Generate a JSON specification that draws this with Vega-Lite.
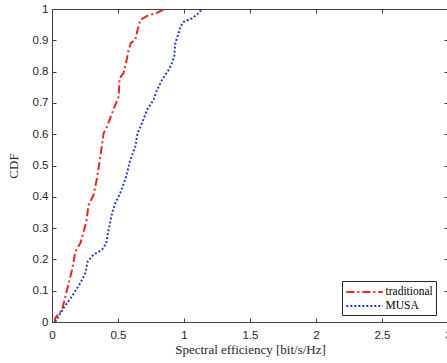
{
  "$schema": "https://vega.github.io/schema/vega-lite/v6.json",
  "width": 396,
  "height": 313,
  "autosize": {"type": "none"},
  "padding": {"left": 52, "top": 9, "right": 0, "bottom": 41},
  "background": "white",
  "config": {
    "view": {"stroke": "#404040", "strokeWidth": 1},
    "axis": {"grid": false, "domainColor": "#404040", "tickColor": "#404040", "labelColor": "#262626", "titleColor": "#262626", "labelFont": "Liberation Sans", "labelFontSize": 11.5, "titleFont": "Liberation Serif", "titleFontSize": 13, "titleFontWeight": "normal", "tickSize": -4}
  },
  "data": {
    "values": [
      {"s": "traditional", "i": 0, "x": 0.02, "y": 0},
      {"s": "traditional", "i": 1, "x": 0.025, "y": 0.013},
      {"s": "traditional", "i": 2, "x": 0.076, "y": 0.039},
      {"s": "traditional", "i": 3, "x": 0.114, "y": 0.103},
      {"s": "traditional", "i": 4, "x": 0.152, "y": 0.167},
      {"s": "traditional", "i": 5, "x": 0.177, "y": 0.225},
      {"s": "traditional", "i": 6, "x": 0.216, "y": 0.253},
      {"s": "traditional", "i": 7, "x": 0.26, "y": 0.32},
      {"s": "traditional", "i": 8, "x": 0.277, "y": 0.374},
      {"s": "traditional", "i": 9, "x": 0.315, "y": 0.406},
      {"s": "traditional", "i": 10, "x": 0.341, "y": 0.46},
      {"s": "traditional", "i": 11, "x": 0.366, "y": 0.528},
      {"s": "traditional", "i": 12, "x": 0.391, "y": 0.603},
      {"s": "traditional", "i": 13, "x": 0.417, "y": 0.624},
      {"s": "traditional", "i": 14, "x": 0.455, "y": 0.667},
      {"s": "traditional", "i": 15, "x": 0.48, "y": 0.694},
      {"s": "traditional", "i": 16, "x": 0.505, "y": 0.72},
      {"s": "traditional", "i": 17, "x": 0.512, "y": 0.779},
      {"s": "traditional", "i": 18, "x": 0.542, "y": 0.795},
      {"s": "traditional", "i": 19, "x": 0.563, "y": 0.832},
      {"s": "traditional", "i": 20, "x": 0.58, "y": 0.869},
      {"s": "traditional", "i": 21, "x": 0.598, "y": 0.892},
      {"s": "traditional", "i": 22, "x": 0.631, "y": 0.901},
      {"s": "traditional", "i": 23, "x": 0.648, "y": 0.933},
      {"s": "traditional", "i": 24, "x": 0.669, "y": 0.965},
      {"s": "traditional", "i": 25, "x": 0.72, "y": 0.978},
      {"s": "traditional", "i": 26, "x": 0.795, "y": 0.988},
      {"s": "traditional", "i": 27, "x": 0.858, "y": 1},
      {"s": "MUSA", "i": 0, "x": 0.025, "y": 0},
      {"s": "MUSA", "i": 1, "x": 0.05, "y": 0.018},
      {"s": "MUSA", "i": 2, "x": 0.088, "y": 0.045},
      {"s": "MUSA", "i": 3, "x": 0.152, "y": 0.082},
      {"s": "MUSA", "i": 4, "x": 0.214, "y": 0.124},
      {"s": "MUSA", "i": 5, "x": 0.252, "y": 0.156},
      {"s": "MUSA", "i": 6, "x": 0.27, "y": 0.193},
      {"s": "MUSA", "i": 7, "x": 0.315, "y": 0.215},
      {"s": "MUSA", "i": 8, "x": 0.379, "y": 0.231},
      {"s": "MUSA", "i": 9, "x": 0.411, "y": 0.252},
      {"s": "MUSA", "i": 10, "x": 0.429, "y": 0.295},
      {"s": "MUSA", "i": 11, "x": 0.455, "y": 0.348},
      {"s": "MUSA", "i": 12, "x": 0.48, "y": 0.38},
      {"s": "MUSA", "i": 13, "x": 0.517, "y": 0.412},
      {"s": "MUSA", "i": 14, "x": 0.559, "y": 0.46},
      {"s": "MUSA", "i": 15, "x": 0.593, "y": 0.518},
      {"s": "MUSA", "i": 16, "x": 0.631, "y": 0.56},
      {"s": "MUSA", "i": 17, "x": 0.648, "y": 0.603},
      {"s": "MUSA", "i": 18, "x": 0.682, "y": 0.635},
      {"s": "MUSA", "i": 19, "x": 0.72, "y": 0.678},
      {"s": "MUSA", "i": 20, "x": 0.77, "y": 0.71},
      {"s": "MUSA", "i": 21, "x": 0.795, "y": 0.741},
      {"s": "MUSA", "i": 22, "x": 0.833, "y": 0.773},
      {"s": "MUSA", "i": 23, "x": 0.883, "y": 0.805},
      {"s": "MUSA", "i": 24, "x": 0.908, "y": 0.827},
      {"s": "MUSA", "i": 25, "x": 0.926, "y": 0.848},
      {"s": "MUSA", "i": 26, "x": 0.934, "y": 0.891},
      {"s": "MUSA", "i": 27, "x": 0.959, "y": 0.922},
      {"s": "MUSA", "i": 28, "x": 0.972, "y": 0.943},
      {"s": "MUSA", "i": 29, "x": 0.997, "y": 0.959},
      {"s": "MUSA", "i": 30, "x": 1.06, "y": 0.97},
      {"s": "MUSA", "i": 31, "x": 1.11, "y": 0.986},
      {"s": "MUSA", "i": 32, "x": 1.136, "y": 1}
    ]
  },
  "layer": [
    {
      "mark": {"type": "line", "strokeWidth": 2, "strokeOpacity": 0, "clip": true},
      "encoding": {
        "x": {"field": "x", "type": "quantitative", "scale": {"domain": [0, 3], "nice": false}, "axis": {"orient": "top", "values": [0, 0.5, 1, 1.5, 2, 2.5, 3], "labels": false, "title": null}},
        "y": {"field": "y", "type": "quantitative", "scale": {"domain": [0, 1], "nice": false}, "axis": {"orient": "right", "values": [0, 0.1, 0.2, 0.3, 0.4, 0.5, 0.6, 0.7, 0.8, 0.9, 1], "labels": false, "title": null}},
        "detail": {"field": "s", "type": "nominal"},
        "order": {"field": "i", "type": "quantitative"}
      }
    },
    {
      "mark": {"type": "line", "strokeWidth": 2, "strokeCap": "butt", "clip": true},
      "encoding": {
        "x": {"field": "x", "type": "quantitative", "scale": {"domain": [0, 3], "nice": false}, "axis": {"orient": "bottom", "values": [0, 0.5, 1, 1.5, 2, 2.5, 3], "format": "~g", "title": "Spectral efficiency [bit/s/Hz]", "labelPadding": 11, "titlePadding": 3, "labelFlush": false}},
        "y": {"field": "y", "type": "quantitative", "scale": {"domain": [0, 1], "nice": false}, "axis": {"orient": "left", "values": [0, 0.1, 0.2, 0.3, 0.4, 0.5, 0.6, 0.7, 0.8, 0.9, 1], "format": "~g", "title": "CDF", "labelPadding": 8, "titlePadding": 12, "labelFlush": false}},
        "order": {"field": "i", "type": "quantitative"},
        "color": {"field": "s", "type": "nominal", "scale": {"domain": ["traditional", "MUSA"], "range": ["#e8281e", "#2440b4"]}, "legend": {"title": null, "orient": "none", "legendX": 290, "legendY": 272, "symbolType": "M-2.6,0H2.6", "symbolSize": 196, "symbolStrokeWidth": 2, "symbolOffset": 11.5, "labelFont": "Liberation Serif", "labelFontSize": 11.5, "labelColor": "#000000", "strokeColor": "#262626", "padding": 3, "rowPadding": 0, "labelOffset": 13, "fillColor": "white"}},
        "strokeDash": {"field": "s", "type": "nominal", "scale": {"domain": ["traditional", "MUSA"], "range": [[8, 3, 2, 3], [2, 2]]}, "legend": null}
      }
    }
  ],
  "resolve": {"axis": {"x": "independent", "y": "independent"}}
}
